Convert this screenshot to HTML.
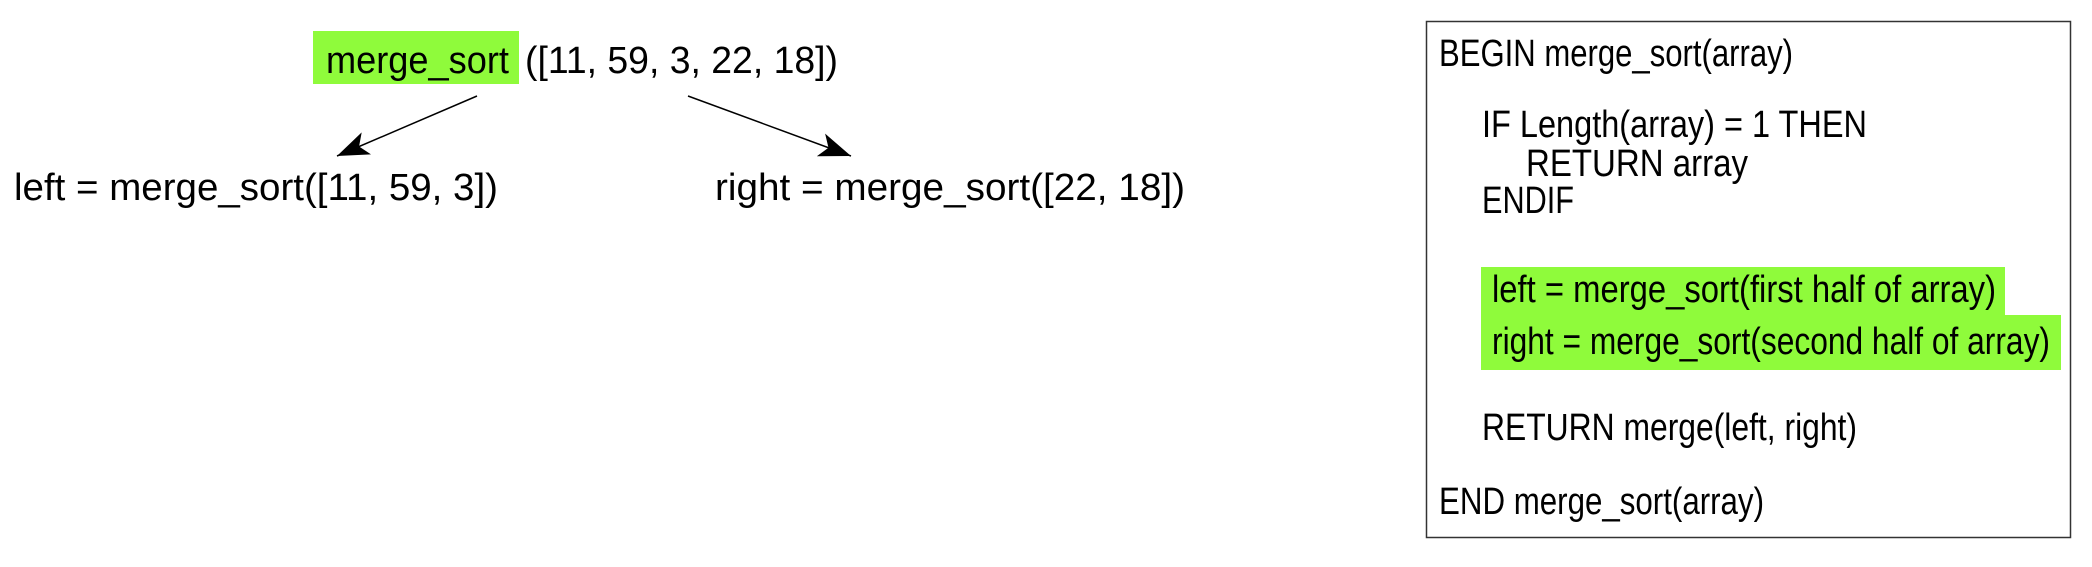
<!DOCTYPE html>
<html><head><meta charset="utf-8"><style>
html,body{margin:0;padding:0;background:#fff;}
svg text{font-family:"Liberation Sans",sans-serif;font-size:38px;fill:#000;}
</style></head><body>
<svg width="2092" height="562" viewBox="0 0 2092 562" xmlns="http://www.w3.org/2000/svg">
<defs>
<marker id="ah" markerWidth="34" markerHeight="24" refX="32" refY="12" orient="auto" markerUnits="userSpaceOnUse">
<path d="M0,0 L32,12 L0,24 L8,12 Z" fill="#000"/>
</marker>
</defs>
<rect x="313" y="31" width="206" height="53" fill="#8ffb3b"/>
<text x="326" y="73" textLength="183" lengthAdjust="spacingAndGlyphs">merge_sort</text>
<text x="525" y="73" textLength="313" lengthAdjust="spacingAndGlyphs">([11, 59, 3, 22, 18])</text>
<line x1="477" y1="96" x2="337" y2="156" stroke="#000" stroke-width="1.5" marker-end="url(#ah)"/>
<line x1="688" y1="96" x2="851" y2="156" stroke="#000" stroke-width="1.5" marker-end="url(#ah)"/>
<text x="14" y="200" textLength="484" lengthAdjust="spacingAndGlyphs">left = merge_sort([11, 59, 3])</text>
<text x="715" y="200" textLength="470" lengthAdjust="spacingAndGlyphs">right = merge_sort([22, 18])</text>

<rect x="1426.5" y="21.5" width="644" height="516" fill="none" stroke="#333" stroke-width="1.5"/>
<text x="1439" y="66" textLength="354" lengthAdjust="spacingAndGlyphs">BEGIN merge_sort(array)</text>
<text x="1482" y="137" textLength="385" lengthAdjust="spacingAndGlyphs">IF Length(array) = 1 THEN</text>
<text x="1526" y="176" textLength="222" lengthAdjust="spacingAndGlyphs">RETURN array</text>
<text x="1482" y="213" textLength="92" lengthAdjust="spacingAndGlyphs">ENDIF</text>
<rect x="1481" y="267" width="524" height="49" fill="#8ffb3b"/>
<rect x="1481" y="315" width="580" height="55" fill="#8ffb3b"/>
<text x="1492" y="302" textLength="504" lengthAdjust="spacingAndGlyphs">left = merge_sort(first half of array)</text>
<text x="1492" y="354" textLength="558" lengthAdjust="spacingAndGlyphs">right = merge_sort(second half of array)</text>
<text x="1482" y="440" textLength="375" lengthAdjust="spacingAndGlyphs">RETURN merge(left, right)</text>
<text x="1439" y="514" textLength="325" lengthAdjust="spacingAndGlyphs">END merge_sort(array)</text>
</svg>
</body></html>
